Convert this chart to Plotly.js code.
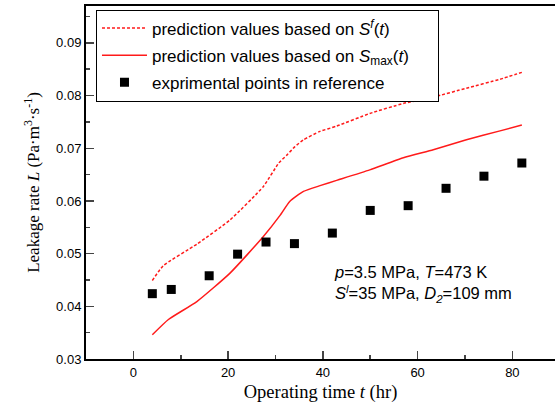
<!DOCTYPE html>
<html><head><meta charset="utf-8">
<script src="https://cdn.plot.ly/plotly-3.0.1.min.js"></script>
<style>html,body{margin:0;padding:0;background:#fff}#chart{width:555px;height:404px}</style>
</head><body><div id="chart"></div>
<script>
// Prediction based on S^f(t) (dashed)
var tF = [4, 6.3, 13.4, 20.4, 27.4, 30.7, 32.4, 34.1, 35.9, 39.4, 42.9, 49.9, 57, 63.3, 70.3, 77.4, 82];
var lF = [0.0449, 0.0477, 0.0518, 0.0564, 0.0627, 0.0672, 0.0687, 0.0703, 0.0716, 0.0732, 0.0742, 0.0766, 0.0785, 0.0797, 0.0814, 0.0831, 0.0844];
// Prediction based on S_max(t) (solid)
var tM = [4, 7.4, 13.4, 20.4, 27.4, 31, 33, 35.9, 39.4, 42.9, 49.9, 57, 63.3, 70.3, 77.4, 82];
var lM = [0.0346, 0.0375, 0.0409, 0.0463, 0.0532, 0.0573, 0.0599, 0.0618, 0.0629, 0.0639, 0.0659, 0.0682, 0.0697, 0.0716, 0.0733, 0.0744];
// Experimental points
var tE = [4, 8, 16, 22, 28, 34, 42, 50, 58, 66, 74, 82];
var lE = [0.0424, 0.0432, 0.0458, 0.0499, 0.0522, 0.0519, 0.0539, 0.0582, 0.0591, 0.0624, 0.0647, 0.0672];

var names = [
  'prediction values based on <i>S</i><sup><i>f</i></sup>(<i>t</i>)',
  'prediction values based on <i>S</i><sub>max</sub>(<i>t</i>)\u00a0\u00a0\u00a0\u00a0\u00a0',
  'exprimental points in reference'
];

var sans = 'Liberation Sans, Arial, sans-serif';
var serif = 'Liberation Serif, Times New Roman, serif';

var traces = [
  {x: tF, y: lF, type: 'scatter', mode: 'lines', name: names[0], legendgroup: 'a',
   line: {color: '#ff1a1a', width: 1.5, dash: '3px,2px', shape: 'spline', smoothing: 0.5}},
  {x: tM, y: lM, type: 'scatter', mode: 'lines', name: names[1], legendgroup: 'b',
   line: {color: '#ff1a1a', width: 1.5, shape: 'spline', smoothing: 0.5}},
  {x: tE, y: lE, type: 'scatter', mode: 'markers', name: names[2], legendgroup: 'c',
   marker: {symbol: 'square', size: 9, color: '#000'}}
];

var layout = {
  width: 555, height: 404,
  margin: {l: 86, r: 0, t: 6, b: 45},
  paper_bgcolor: '#fff', plot_bgcolor: '#fff',
  showlegend: true,
  legend: {x: 0.0213, y: 0.99, xanchor: 'left', yanchor: 'top',
    bordercolor: '#000', borderwidth: 1, bgcolor: '#fff',
    font: {family: sans, size: 17, color: '#000'},
    tracegroupgap: 2, itemwidth: 45},
  xaxis: {range: [-10, 89], tick0: 0, dtick: 20, ticks: 'inside', ticklen: 8, tickwidth: 1.5,
    showline: true, linewidth: 2, linecolor: '#000', mirror: true, showgrid: false, zeroline: false,
    minor: {dtick: 10, ticks: 'inside', ticklen: 4, tickwidth: 1.5, showgrid: false},
    tickfont: {family: sans, size: 13, color: '#000'},
    title: {text: 'Operating time <i>t</i> (hr)', font: {family: serif, size: 18.5, color: '#000'}, standoff: 6}},
  yaxis: {range: [0.03, 0.097], tick0: 0.03, dtick: 0.01, tickformat: '.2f', ticks: 'inside', ticklen: 8, tickwidth: 1.5,
    showline: true, linewidth: 2, linecolor: '#000', showgrid: false, zeroline: false,
    minor: {dtick: 0.005, ticks: 'inside', ticklen: 4, tickwidth: 1.5, showgrid: false},
    tickfont: {family: sans, size: 13, color: '#000'},
    title: {text: 'Leakage rate <i>L</i> (Pa·m<sup>3</sup>·s<sup>-1</sup>)', font: {family: serif, size: 17, color: '#000'}, standoff: 12}},
  annotations: [
    {x: 42, y: 0.0443, xref: 'x', yref: 'y', xanchor: 'left', yanchor: 'middle', align: 'left', showarrow: false,
     text: '<i>p</i>=3.5 MPa, <i>T</i>=473 K<br><i>S</i><sup><i>l</i></sup>=35 MPa, <i>D</i><sub><i>2</i></sub>=109 mm',
     font: {family: sans, size: 16.5, color: '#000'}}
  ]
};

Plotly.newPlot('chart', traces, layout, {displayModeBar: false, staticPlot: true});
</script></body></html>
